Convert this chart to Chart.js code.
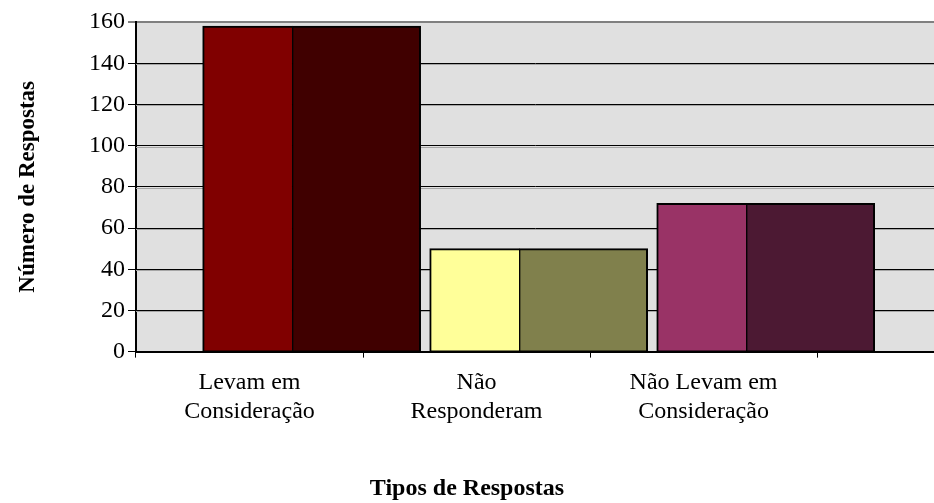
<!DOCTYPE html>
<html lang="pt">
<head>
<meta charset="utf-8">
<title>Tipos de Respostas</title>
<script src="https://cdn.jsdelivr.net/npm/chart.js@4/dist/chart.umd.min.js"></script>
<style>
  html, body { margin: 0; padding: 0; background: #ffffff; overflow: hidden; }
  canvas { display: block; }
</style>
</head>
<body>
<canvas id="chart" width="934" height="503"></canvas>
<script>
// Categories (already broken into their two label lines)
const categories = [
  ['Levam em', 'Consideração'],
  ['Não', 'Responderam'],
  ['Não Levam em', 'Consideração']
];
// Number of answers per category, one value per series
const respostasA = [158, 50, 72];
const respostasB = [158, 50, 72];
// Value-axis tick labels
const yTickValues = [0, 20, 40, 60, 80, 100, 120, 140, 160];

// Bar fills per category for each series
const coresA = ['#800000', '#FFFF99', '#993366'];
const coresB = ['#400000', '#80804C', '#4C1933'];

const tituloX = 'Tipos de Respostas';
const tituloY = 'Número de Respostas';

const FONT = "'Liberation Serif', 'Times New Roman', serif";
const SPAN = 3.515;        // category slots visible across the plot width
const BAR_SHIFT = 0.19;    // bar groups sit right of the label slots

Chart.defaults.font.family = FONT;
Chart.defaults.color = '#000000';

// Grey plot-area fill behind grid and bars
const plotBackground = {
  id: 'plotBackground',
  beforeDraw(chart) {
    const { ctx, chartArea: a } = chart;
    ctx.save();
    ctx.fillStyle = '#E0E0E0';
    ctx.fillRect(a.left, a.top, a.right - a.left, a.bottom - a.top);
    ctx.restore();
  }
};

// Light shadow line under each horizontal gridline
const gridShadow = {
  id: 'gridShadow',
  beforeDatasetsDraw(chart) {
    const { ctx, chartArea: a, scales } = chart;
    const y = scales.y;
    ctx.save();
    ctx.strokeStyle = '#A6A6A6';
    ctx.lineWidth = 1;
    y.ticks.forEach((t) => {
      if (t.value <= y.min || t.value >= y.max) return;
      const py = Math.round(y.getPixelForValue(t.value)) + 1.5;
      ctx.beginPath();
      ctx.moveTo(a.left, py);
      ctx.lineTo(a.right, py);
      ctx.stroke();
    });
    ctx.restore();
  }
};

const toPoints = (values) => values.map((v, i) => ({ x: i, y: v }));

new Chart(document.getElementById('chart'), {
  type: 'bar',
  data: {
    datasets: [
      {
        label: 'A',
        data: toPoints(respostasA),
        xAxisID: 'xb',
        backgroundColor: coresA,
        borderColor: '#000000',
        borderWidth: { top: 2, left: 2, right: 1, bottom: 1 },
        borderSkipped: false,
        barThickness: 90
      },
      {
        label: 'B',
        data: toPoints(respostasB),
        xAxisID: 'xb',
        backgroundColor: coresB,
        borderColor: '#000000',
        borderWidth: { top: 2, left: 1, right: 2, bottom: 1 },
        borderSkipped: false,
        barThickness: 128
      }
    ]
  },
  options: {
    responsive: false,
    animation: false,
    devicePixelRatio: 1,
    layout: { padding: { top: 22, left: 0, right: 0, bottom: 0 } },
    plugins: {
      legend: { display: false },
      tooltip: { enabled: false },
      title: {
        display: true,
        text: tituloX,
        position: 'bottom',
        color: '#000000',
        font: { family: FONT, size: 24, weight: 'bold' },
        padding: { top: 38, bottom: 0 }
      }
    },
    scales: {
      x: {
        type: 'linear',
        position: 'bottom',
        min: -0.5,
        max: -0.5 + SPAN,
        offset: false,
        afterBuildTicks: (s) => { s.ticks = categories.map((_, i) => ({ value: i })); },
        ticks: {
          callback: (v, i) => categories[i],
          autoSkip: false,
          maxRotation: 0,
          minRotation: 0,
          padding: 10,
          color: '#000000',
          font: { family: FONT, size: 24, lineHeight: 1.22 }
        },
        grid: {
          offset: true,
          drawOnChartArea: false,
          drawTicks: true,
          tickLength: 6,
          tickColor: '#000000',
          color: '#000000'
        },
        border: { display: true, color: '#000000', width: 2 }
      },
      xb: {
        type: 'linear',
        axis: 'x',
        display: false,
        min: -0.5 - BAR_SHIFT,
        max: -0.5 - BAR_SHIFT + SPAN,
        offset: false,
        grid: { display: false }
      },
      y: {
        type: 'linear',
        position: 'left',
        min: 0,
        max: 160,
        afterBuildTicks: (s) => { s.ticks = yTickValues.map((v) => ({ value: v })); },
        afterFit: (s) => { s.width = 136; },
        ticks: {
          padding: 3,
          color: '#000000',
          font: { family: FONT, size: 24 }
        },
        grid: {
          color: (c) => (c.tick && c.tick.value === 160 ? '#808080' : '#000000'),
          lineWidth: (c) => (c.tick && c.tick.value === 160 ? 2 : 1),
          tickLength: 8,
          tickColor: '#000000',
          tickWidth: 1
        },
        border: { display: true, color: '#000000', width: 2 },
        title: {
          display: true,
          text: tituloY,
          color: '#000000',
          font: { family: FONT, size: 23, weight: 'bold' },
          padding: { top: 14, bottom: 0 }
        }
      }
    }
  },
  plugins: [plotBackground, gridShadow]
});
</script>
</body>
</html>
